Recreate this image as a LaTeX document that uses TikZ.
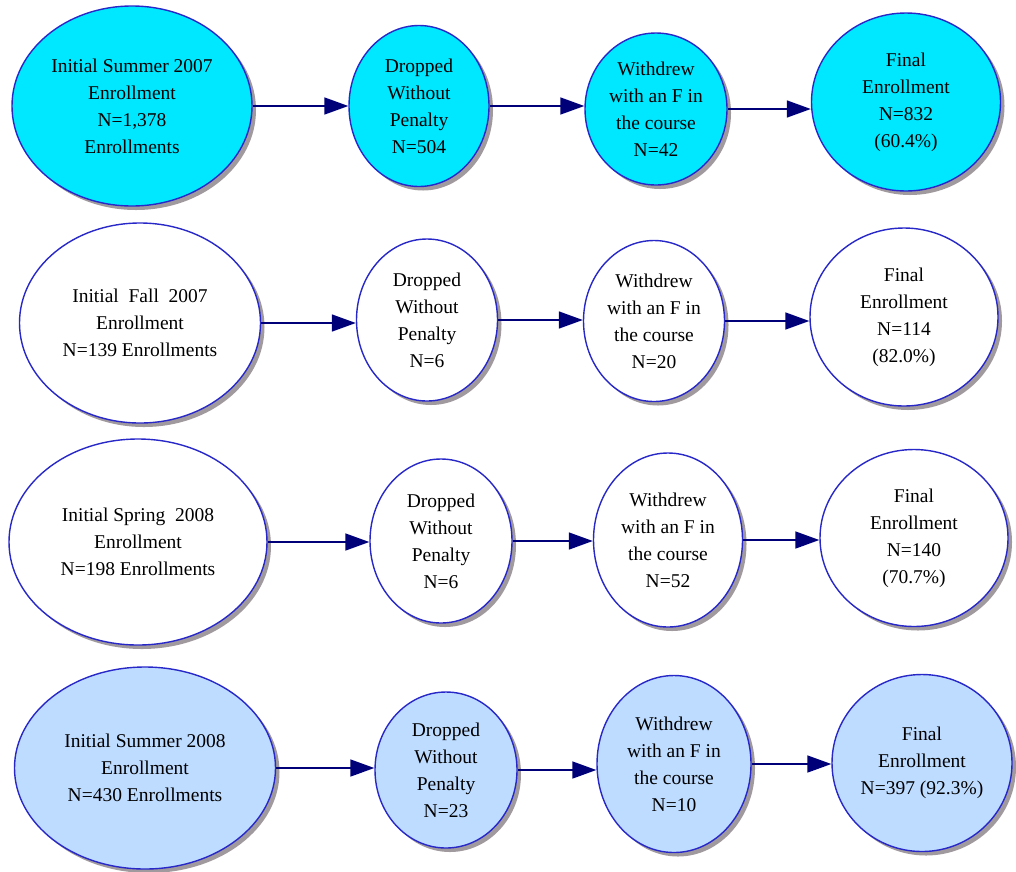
\documentclass[tikz,border=0pt]{standalone}
\usepackage{fontspec}
\setmainfont{Liberation Serif}
\usetikzlibrary{shapes.geometric,arrows.meta,shadows}
\definecolor{cyanfill}{RGB}{0,232,255}
\definecolor{lightfill}{RGB}{190,220,255}
\definecolor{edgeblue}{RGB}{40,40,200}
\definecolor{arrownavy}{RGB}{0,0,120}
\definecolor{shadowgrey}{RGB}{120,110,115}
\tikzset{
  ell/.style={ellipse, draw=edgeblue, line width=1.4pt, inner sep=0pt, align=center,
    font=\fontsize{19.5}{27}\selectfont,
    drop shadow={shadow xshift=4pt, shadow yshift=-4pt, opacity=0.7, fill=shadowgrey}},
  arr/.style={draw=arrownavy, line width=1.6pt, -{Triangle[length=24pt,width=17pt]}}
}
\begin{document}
\begin{tikzpicture}[x=1pt,y=-1pt]
\useasboundingbox (0,0) rectangle (1016,871);
% Row 1
\node[ell, fill=cyanfill, minimum width=240pt, minimum height=200pt] (a1) at (132,106) {Initial Summer 2007\\Enrollment\\N=1,378\\Enrollments};
\node[ell, fill=cyanfill, minimum width=140pt, minimum height=161pt] (b1) at (419,106) {Dropped\\Without\\Penalty\\N=504};
\node[ell, fill=cyanfill, minimum width=142pt, minimum height=152pt] (c1) at (656,109) {Withdrew\\with an F in\\the course\\N=42};
\node[ell, fill=cyanfill, minimum width=189pt, minimum height=178pt] (d1) at (906,102) {Final\\Enrollment\\N=832\\(60.4\%)};
% Row 2
\node[ell, fill=white, minimum width=241pt, minimum height=200pt] (a2) at (140,323) {Initial~ Fall~ 2007\\Enrollment\\N=139 Enrollments};
\node[ell, fill=white, minimum width=141pt, minimum height=162pt] (b2) at (427,320) {Dropped\\Without\\Penalty\\N=6};
\node[ell, fill=white, minimum width=141pt, minimum height=161pt] (c2) at (654,321) {Withdrew\\with an F in\\the course\\N=20};
\node[ell, fill=white, minimum width=188pt, minimum height=178pt] (d2) at (904,317) {Final\\Enrollment\\N=114\\(82.0\%)};
% Row 3
\node[ell, fill=white, minimum width=258pt, minimum height=206pt] (a3) at (138,542) {Initial Spring~ 2008\\Enrollment\\N=198 Enrollments};
\node[ell, fill=white, minimum width=142pt, minimum height=164pt] (b3) at (441,541) {Dropped\\Without\\Penalty\\N=6};
\node[ell, fill=white, minimum width=149pt, minimum height=174pt] (c3) at (668,540) {Withdrew\\with an F in\\the course\\N=52};
\node[ell, fill=white, minimum width=188pt, minimum height=177pt] (d3) at (914,538) {Final\\Enrollment\\N=140\\(70.7\%)};
% Row 4
\node[ell, fill=lightfill, minimum width=261pt, minimum height=202pt] (a4) at (145,768) {Initial Summer 2008\\Enrollment\\N=430 Enrollments};
\node[ell, fill=lightfill, minimum width=142pt, minimum height=156pt] (b4) at (446,770) {Dropped\\Without\\Penalty\\N=23};
\node[ell, fill=lightfill, minimum width=154pt, minimum height=177pt] (c4) at (674,764) {Withdrew\\with an F in\\the course\\N=10};
\node[ell, fill=lightfill, minimum width=180pt, minimum height=177pt] (d4) at (922,763) {Final\\Enrollment\\N=397 (92.3\%)};
% Arrows
\foreach \r in {1,2,3,4}{
  \draw[arr] (a\r.east) -- (a\r.east -| b\r.west);
  \draw[arr] (b\r.east) -- (b\r.east -| c\r.west);
  \draw[arr] (c\r.east) -- (c\r.east -| d\r.west);
}
\end{tikzpicture}
\end{document}
